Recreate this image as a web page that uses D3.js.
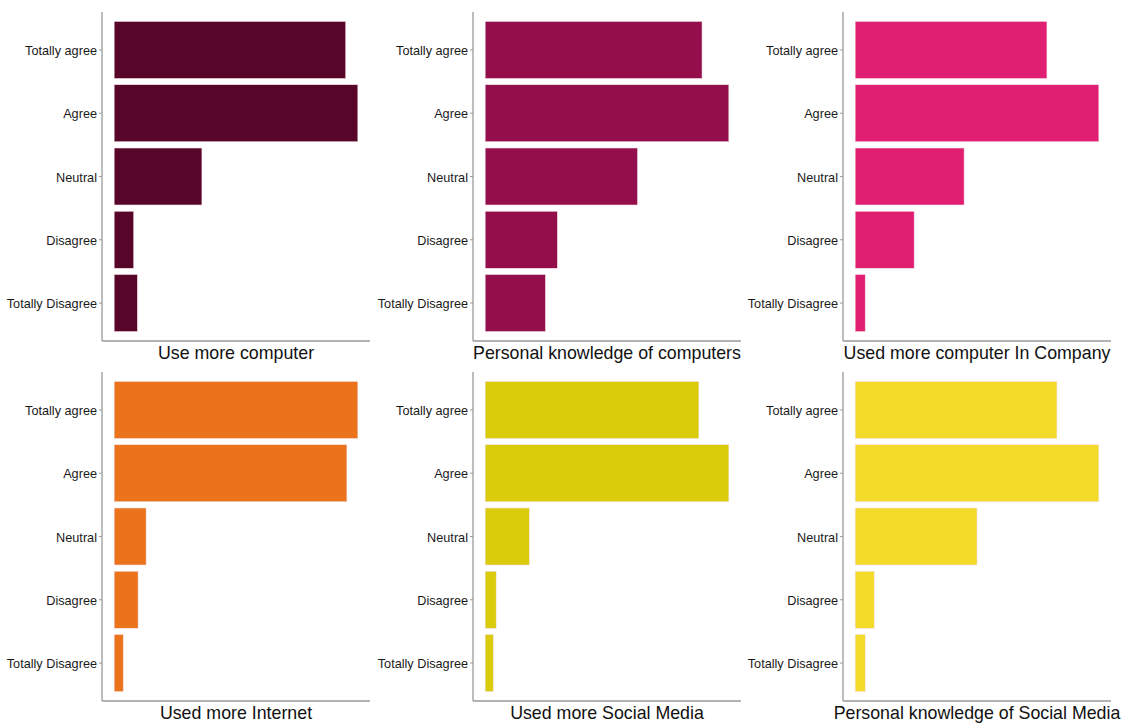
<!DOCTYPE html>
<html>
<head>
<meta charset="utf-8">
<script src="https://cdn.jsdelivr.net/npm/d3@7"></script>
<style>
  html, body { margin: 0; padding: 0; background: #fff; }
  svg { display: block; font-family: "Liberation Sans", Arial, sans-serif; }
</style>
</head>
<body>
<svg id="chart" width="1121" height="725"></svg>
<script>
const categories = ["Totally agree", "Agree", "Neutral", "Disagree", "Totally Disagree"];
const titles = [
  "Use more computer",
  "Personal knowledge of computers",
  "Used more computer In Company",
  "Used more Internet",
  "Used more Social Media",
  "Personal knowledge of Social Media"
];
const colors = ["#57062a", "#930e4b", "#e01f73", "#eb731c", "#dacb0b", "#f4da29"];
const useMoreComputer = [95, 100, 36, 8, 9.5];
const personalKnowledgeComputers = [89, 100, 62.5, 29.6, 24.7];
const usedMoreComputerCompany = [78.7, 100, 44.7, 24.2, 4.1];
const usedMoreInternet = [100, 95.5, 13.1, 9.8, 3.7];
const usedMoreSocialMedia = [87.7, 100, 18.1, 4.5, 3.3];
const personalKnowledgeSocialMedia = [82.8, 100, 50, 7.8, 4.1];
const seriesValues = [useMoreComputer, personalKnowledgeComputers, usedMoreComputerCompany,
  usedMoreInternet, usedMoreSocialMedia, personalKnowledgeSocialMedia];

const svg = d3.select("#chart");
const colX = [102, 473, 843];
const rowY = [12, 372];
const pw = 268, ph = 329;

seriesValues.forEach((vals, i) => {
  const x0 = colX[i % 3], y0 = rowY[Math.floor(i / 3)];
  const g = svg.append("g").attr("transform", `translate(${x0},${y0})`);
  const max = d3.max(vals);
  const exp = pw * 0.05 / 1.1;
  const x = d3.scaleLinear().domain([0, max]).range([exp, pw - exp]);
  const y = d3.scaleBand().domain(categories).range([0, ph]).paddingInner(0.1).paddingOuter(0.15);

  g.selectAll("rect").data(vals).join("rect")
    .attr("x", x(0))
    .attr("y", (d, j) => y(categories[j]))
    .attr("width", d => x(d) - x(0))
    .attr("height", y.bandwidth())
    .attr("fill", colors[i])
    .attr("stroke", "#f3dce4")
    .attr("stroke-width", 0.5);

  const yAxis = g.append("g").call(d3.axisLeft(y).tickSize(3).tickPadding(2));
  yAxis.select(".domain").attr("stroke", "#9a9a9a").attr("stroke-width", 1.3)
    .attr("d", `M0,0V${ph}`);
  yAxis.selectAll(".tick line").attr("stroke", "#9a9a9a");
  yAxis.selectAll(".tick text").attr("fill", "#1a1a1a").style("font-size", "12.7px")
    .attr("dy", "0.4em")
    .style("font-family", "'Liberation Sans', Arial, sans-serif");

  g.append("line").attr("x1", 0).attr("x2", pw).attr("y1", ph).attr("y2", ph)
    .attr("stroke", "#9a9a9a").attr("stroke-width", 1.3);

  g.append("text")
    .attr("x", pw / 2).attr("y", ph + 18)
    .attr("text-anchor", "middle")
    .attr("fill", "#111")
    .style("font-size", "17.8px")
    .text(titles[i]);
});
</script>
</body>
</html>
